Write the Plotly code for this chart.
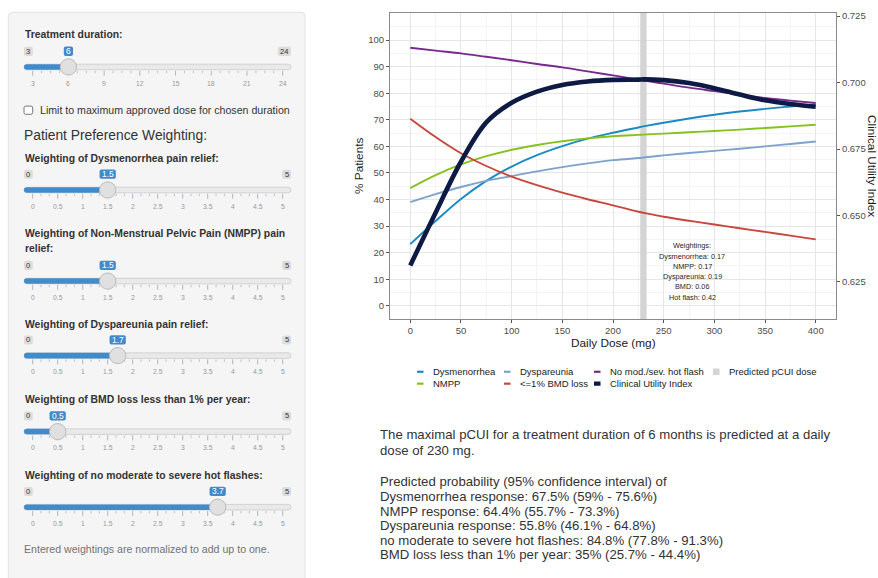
import plotly.graph_objects as go

# ---------------- data ----------------
# Daily dose grid (mg) and predicted response curves (% patients)
dose = [0, 25, 50, 75, 100, 125, 150, 175, 200, 225, 230, 250, 275, 300, 325, 350, 375, 400]
dysmenorrhea = [23.2, 31.9, 40.2, 47.0, 52.4, 56.7, 60.1, 62.9, 65.1, 67.1, 67.5, 68.9, 70.5, 71.9, 73.1, 74.1, 75.0, 75.8]
nmpp = [44.3, 49.2, 53.2, 56.3, 58.7, 60.5, 61.9, 63.0, 63.8, 64.3, 64.4, 64.8, 65.3, 65.8, 66.3, 66.9, 67.5, 68.1]
dyspareunia = [39.0, 42.0, 44.7, 47.0, 48.8, 50.6, 52.2, 53.6, 54.8, 55.6, 55.8, 56.6, 57.5, 58.3, 59.1, 60.0, 60.9, 61.8]
bmd = [70.4, 63.5, 57.4, 52.6, 48.6, 45.4, 42.6, 40.1, 37.8, 35.4, 35.0, 33.5, 32.0, 30.6, 29.2, 27.8, 26.4, 25.0]
hot_flash = [97.1, 96.0, 95.0, 93.7, 92.4, 91.0, 89.7, 88.2, 86.7, 85.1, 84.8, 83.6, 82.1, 80.8, 79.5, 78.2, 77.2, 76.3]
# Clinical utility index (secondary axis)
cui = [0.6312, 0.6510, 0.6702, 0.6850, 0.6924, 0.6966, 0.6991, 0.7004, 0.7010, 0.7011, 0.7012, 0.7009,
       0.6998, 0.6979, 0.6955, 0.6933, 0.6919, 0.6909]
pcui_dose = 230
duration_months = 6

# 95% confidence limits at the predicted dose
endpoints = ["Dysmenorrhea response", "NMPP response", "Dyspareunia response",
             "no moderate to severe hot flashes", "BMD loss less than 1% per year"]
ci_low = [59, 55.7, 46.1, 77.8, 25.7]
ci_high = [75.6, 73.3, 64.8, 91.3, 44.4]

# Inputs of the control panel
duration_ticks = [3, 6, 9, 12, 15, 18, 21, 24]
weight_ticks = [0, 0.5, 1, 1.5, 2, 2.5, 3, 3.5, 4, 4.5, 5]
weight_values = [1.5, 1.5, 1.7, 0.5, 3.7]
weight_short = ["Dysmenorrhea", "NMPP", "Dyspareunia", "BMD", "Hot flash"]
weight_titles = [["Weighting of Dysmenorrhea pain relief:"],
                 ["Weighting of Non-Menstrual Pelvic Pain (NMPP) pain", "relief:"],
                 ["Weighting of Dyspareunia pain relief:"],
                 ["Weighting of BMD loss less than 1% per year:"],
                 ["Weighting of no moderate to severe hot flashes:"]]

legend_labels = ["Dysmenorrhea", "NMPP", "Dyspareunia", "<=1% BMD loss",
                 "No mod./sev. hot flash", "Clinical Utility Index", "Predicted pCUI dose"]
colors = {"Dysmenorrhea": "#1b8ac4", "NMPP": "#86c21f", "Dyspareunia": "#7ea2cc",
          "<=1% BMD loss": "#c9463d", "No mod./sev. hot flash": "#772a8c",
          "Clinical Utility Index": "#0c1a44", "Predicted pCUI dose": "#d4d4d4"}

# ---------------- geometry helpers ----------------
W, H = 878, 578
L, R, T, B = 390, 836, 10, 319          # plot area in pixels
FONT = "Liberation Sans, Arial, Helvetica, sans-serif"
CUI_OFFSET = 0.616                       # cui = pct / 1000 + offset
YMIN, YMAX = -4.96, 110.17


def X(p):
    return (p - L) / (R - L)


def Y(p):
    return (B - p) / (B - T)


shapes, annotations = [], []


def text(x, y, s, size, color="#333333", anchor="left", angle=0, xref="paper", yref="paper"):
    annotations.append(dict(
        x=X(x) if xref == "paper" else x, y=Y(y) if yref == "paper" else y,
        xref=xref, yref=yref, text=s, showarrow=False, xanchor=anchor, yanchor="middle",
        textangle=angle, borderpad=0, borderwidth=0,
        font=dict(family=FONT, size=size, color=color)))


def rrect(x0, y0, x1, y1, r, fill, line=None, lw=1.0):
    r = min(r, (x1 - x0) / 2, (y1 - y0) / 2)
    p = (f"M{X(x0 + r)},{Y(y0)} L{X(x1 - r)},{Y(y0)} Q{X(x1)},{Y(y0)} {X(x1)},{Y(y0 + r)} "
         f"L{X(x1)},{Y(y1 - r)} Q{X(x1)},{Y(y1)} {X(x1 - r)},{Y(y1)} "
         f"L{X(x0 + r)},{Y(y1)} Q{X(x0)},{Y(y1)} {X(x0)},{Y(y1 - r)} "
         f"L{X(x0)},{Y(y0 + r)} Q{X(x0)},{Y(y0)} {X(x0 + r)},{Y(y0)} Z")
    shapes.append(dict(type="path", path=p, xref="paper", yref="paper", fillcolor=fill,
                       line=dict(color=line if line else fill, width=lw if line else 0)))


def seg(x0, y0, x1, y1, color, width):
    shapes.append(dict(type="line", xref="paper", yref="paper", x0=X(x0), y0=Y(y0), x1=X(x1), y1=Y(y1),
                       line=dict(color=color, width=width)))


def circle(cx, cy, r, fill, line):
    shapes.append(dict(type="circle", xref="paper", yref="paper", x0=X(cx - r), x1=X(cx + r),
                       y0=Y(cy + r), y1=Y(cy - r), fillcolor=fill, line=dict(color=line, width=1)))


CHAR_W = {".": 0.278}


def text_w(s, size):
    return sum(CHAR_W.get(c, 0.556) for c in s) * size


def fmt(v):
    return f"{v:g}"


def slider(ty, ticks, value, n_minor):
    x0t, x1t = 24, 291
    a, b = 32.7, 282.7
    vmin, vmax = ticks[0], ticks[-1]

    def pos(v):
        return a + (v - vmin) / (vmax - vmin) * (b - a)

    xv = pos(value)
    rrect(x0t, ty - 2.8, x1t, ty + 2.8, 2.8, "#e9e9e9", "#cccccc", 0.8)
    rrect(x0t, ty - 2.8, xv, ty + 2.8, 2.8, "#428bca")
    for i, t in enumerate(ticks):
        xm = pos(t)
        seg(xm, ty + 3.8, xm, ty + 8.8, "#a7b8ca", 1)
        text(xm, ty + 16.3, fmt(t), 6.8, color="#999999", anchor="center")
        if i > 0:
            xp = pos(ticks[i - 1])
            for k in range(1, n_minor + 1):
                xs = xp + (xm - xp) * k / (n_minor + 1)
                seg(xs, ty + 3.8, xs, ty + 6.3, "#b9c4cf", 1)
    # min / max labels
    for s, side in ((fmt(vmin), "l"), (fmt(vmax), "r")):
        w = text_w(s, 7.6) + 4.6
        bx0 = x0t if side == "l" else x1t - w
        rrect(bx0, ty - 20.4, bx0 + w, ty - 11.2, 2, "#dcdcdc")
        text(bx0 + w / 2, ty - 15.8, s, 7.6, anchor="center")
    # handle
    circle(xv, ty, 8.2, "#e0e0e0", "#bdbdbd")
    # value bubble
    s = fmt(value)
    w = text_w(s, 8.4) + 4.6
    rrect(xv - w / 2, ty - 20.6, xv + w / 2, ty - 11.2, 2, "#428bca")
    text(xv, ty - 15.9, s, 8.4, color="#ffffff", anchor="center")


# ---------------- control panel ----------------
rrect(8.3, 9.3, 305, 640, 4, "#f5f5f5", "#e3e3e3", 1)

text(24.5, 32, "<b>Treatment duration:</b>", 10.4)
slider(64.5, duration_ticks, duration_months, 3)

rrect(24, 104, 32.7, 112.3, 1.8, "#ffffff", "#767676", 1)
text(39.5, 108, "Limit to maximum approved dose for chosen duration", 10.6)
text(24, 133.7, "Patient Preference Weighting:", 13.8)

title_rows = [[157], [232.7, 248.3], [324.3], [400], [476.7]]
track_rows = [188.7, 280.7, 356, 432.7, 509]
for lines, rows, ty, v in zip(weight_titles, title_rows, track_rows, weight_values):
    for s, yy in zip(lines, rows):
        text(24.5, yy, f"<b>{s}</b>", 10.4)
    slider(ty, weight_ticks, v, 2)

text(24, 551.7, "Entered weightings are normalized to add up to one.", 10.6, color="#737373")

# ---------------- chart ----------------
fig = go.Figure()
# predicted pCUI dose band
fig.add_trace(go.Scatter(x=[pcui_dose, pcui_dose], y=[YMIN - 10, YMAX + 10], mode="lines",
                         line=dict(color=colors["Predicted pCUI dose"], width=6.4), hoverinfo="skip"))
series = [("Dysmenorrhea", dysmenorrhea), ("NMPP", nmpp), ("Dyspareunia", dyspareunia),
          ("<=1% BMD loss", bmd), ("No mod./sev. hot flash", hot_flash)]
for name, vals in series:
    fig.add_trace(go.Scatter(x=dose, y=vals, mode="lines", name=name,
                             line=dict(color=colors[name], width=1.9, shape="spline", smoothing=1.0)))
fig.add_trace(go.Scatter(x=dose, y=cui, mode="lines", name="Clinical Utility Index", yaxis="y2",
                         line=dict(color=colors["Clinical Utility Index"], width=4.6, shape="spline",
                                   smoothing=1.0)))

# weightings note inside the panel
wsum = sum(weight_values)
note = ["Weightings:"] + [f"{n}: {v / wsum:.2f}" for n, v in zip(weight_short, weight_values)]
for i, s in enumerate(note):
    text(278, 245 + i * 10.4, s, 7.3, color="#262626", anchor="center", xref="x")

# axis titles
text(359, (T + B) / 2, "% Patients", 11.8, color="#1a1a1a", anchor="center", angle=-90)
text(872, (T + B) / 2, "Clinical Utility Index", 11.8, color="#1a1a1a", anchor="center", angle=90)
text((L + R) / 2, 343, "Daily Dose (mg)", 11.8, color="#1a1a1a", anchor="center")

# legend (two rows, filled column by column)
key_x = [417, 504, 594, 713]
row_y = [372.3, 384.3]
for i, lab in enumerate(legend_labels):
    c, r = divmod(i, 2)
    kx, ky = key_x[c], row_y[r]
    if lab == "Predicted pCUI dose":
        rrect(kx, ky - 3.2, kx + 6.5, ky + 3.2, 0, colors[lab])
    elif lab == "Clinical Utility Index":
        rrect(kx, ky - 2.2, kx + 6.5, ky + 2.2, 0, colors[lab])
    else:
        seg(kx, ky, kx + 6.5, ky, colors[lab], 2.2)
    text(kx + 16, ky, lab, 9.5, color="#1a1a1a")

# summary text under the chart
i230 = dose.index(pcui_dose)
at_dose = [dysmenorrhea[i230], nmpp[i230], dyspareunia[i230], hot_flash[i230], bmd[i230]]
para1 = [f"The maximal pCUI for a treatment duration of {duration_months} months is predicted at a daily",
         f"dose of {pcui_dose} mg."]
para2 = ["Predicted probability (95% confidence interval) of"] + [
    f"{n}: {fmt(v)}% ({fmt(lo)}% - {fmt(hi)}%)" for n, v, lo, hi in zip(endpoints, at_dose, ci_low, ci_high)]
for i, s in enumerate(para1):
    text(379.5, 436 + i * 15.4, s, 13.2)
for i, s in enumerate(para2):
    text(379.5, 483.4 + i * 14.75, s, 13.2)

tickfont = dict(family=FONT, size=9.5, color="#4d4d4d")
fig.update_layout(
    width=W, height=H, autosize=False,
    margin=dict(l=L, r=W - R, t=T, b=H - B, pad=0),
    paper_bgcolor="#ffffff", plot_bgcolor="#ffffff",
    showlegend=False, hovermode=False,
    shapes=shapes, annotations=annotations,
    xaxis=dict(range=[-20, 420], tickmode="array", tickvals=list(range(0, 401, 50)),
               showgrid=True, gridcolor="#e6e6e6", gridwidth=1,
               minor=dict(tickmode="array", tickvals=list(range(25, 400, 50)), showgrid=True,
                          gridcolor="#efefef", gridwidth=0.7),
               zeroline=False, showline=True, mirror=True, linecolor="#8a8a8a", linewidth=1,
               ticks="outside", ticklen=3, tickcolor="#555555", tickfont=tickfont),
    yaxis=dict(range=[YMIN, YMAX], tickmode="array", tickvals=list(range(0, 101, 10)),
               showgrid=True, gridcolor="#e6e6e6", gridwidth=1,
               minor=dict(tickmode="array", tickvals=list(range(5, 110, 10)), showgrid=True,
                          gridcolor="#efefef", gridwidth=0.7),
               zeroline=False, showline=True, mirror=True, linecolor="#8a8a8a", linewidth=1,
               ticks="outside", ticklen=3, tickcolor="#555555", tickfont=tickfont),
    yaxis2=dict(overlaying="y", side="right",
                range=[YMIN / 1000 + CUI_OFFSET, YMAX / 1000 + CUI_OFFSET],
                tickmode="array", tickvals=[0.625, 0.65, 0.675, 0.7, 0.725], tickformat=".3f",
                showgrid=False, zeroline=False, showline=False,
                ticks="outside", ticklen=3, tickcolor="#555555", tickfont=tickfont),
)

fig.write_html("out.html", config={"displayModeBar": False, "staticPlot": True},
               post_script="document.body.style.margin='0';")
